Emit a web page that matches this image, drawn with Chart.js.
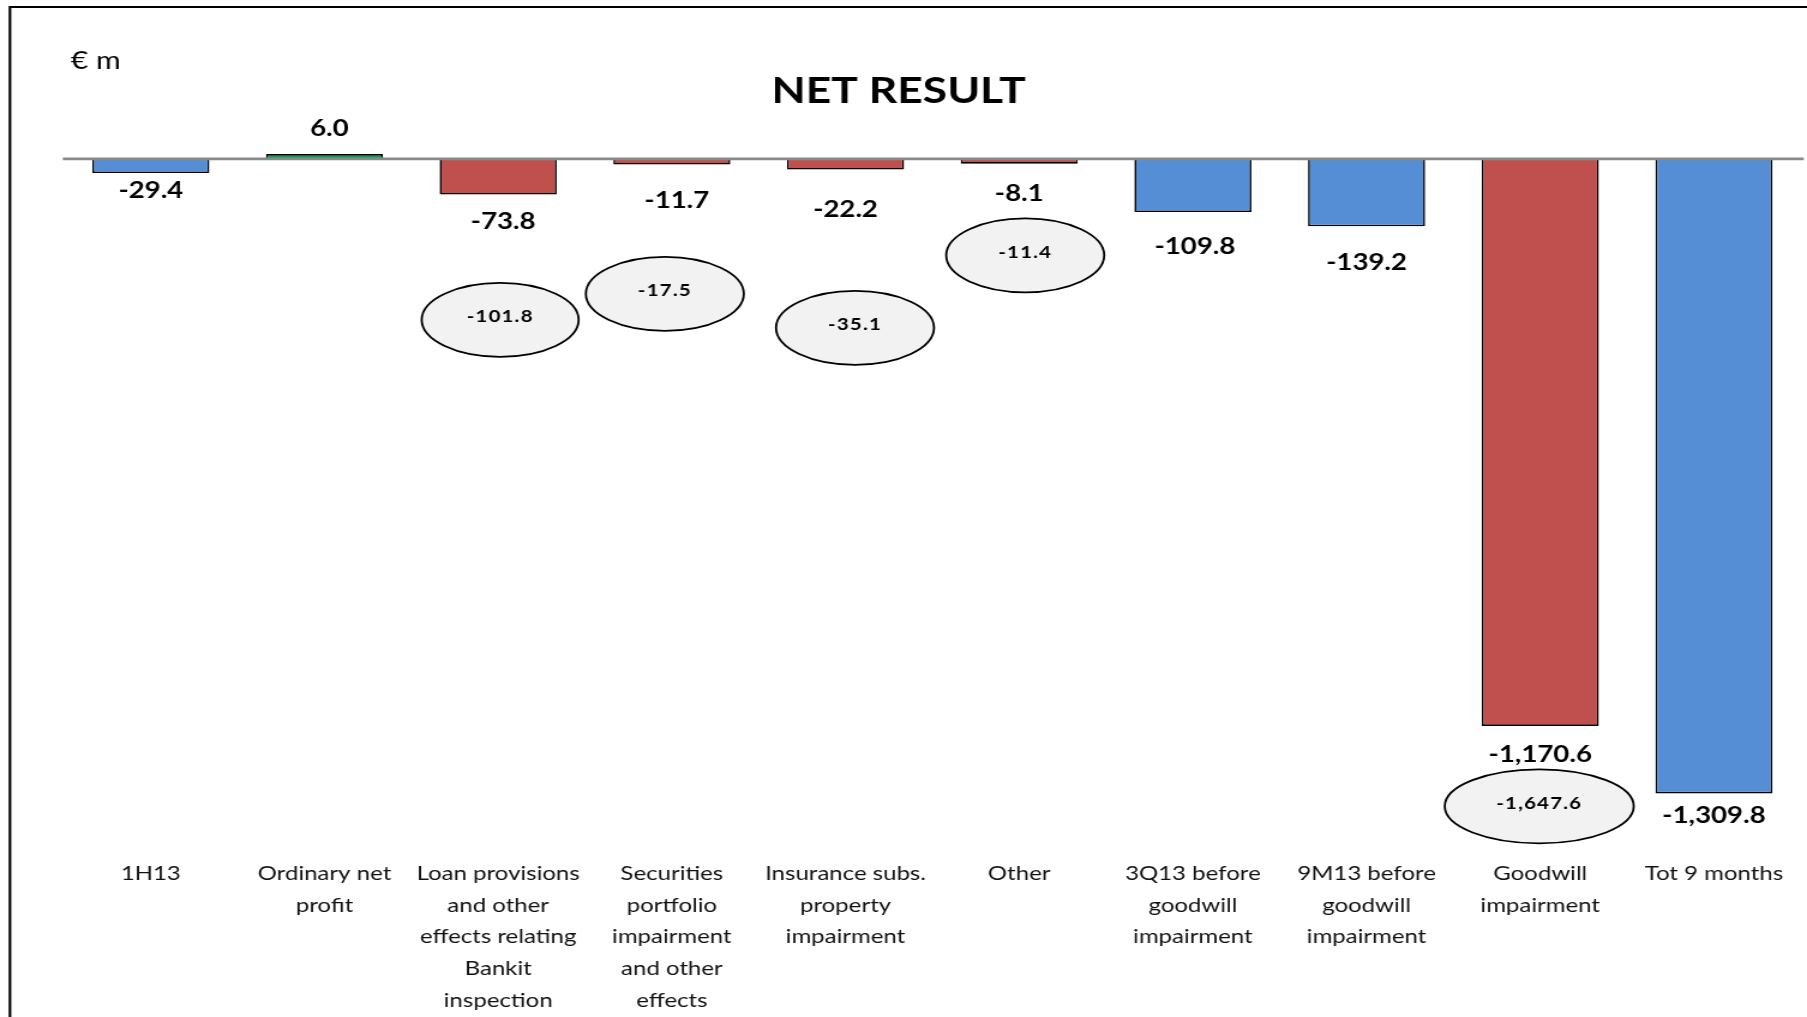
<!DOCTYPE html>
<html>
<head>
<meta charset="utf-8">
<script src="https://cdn.jsdelivr.net/npm/chart.js@4.4.1/dist/chart.umd.min.js"></script>
<style>
  html, body { margin: 0; padding: 0; background: #ffffff; overflow: hidden; }
  #wrap { position: absolute; left: 0; top: 0; width: 1506px; height: 1017px; transform-origin: 0 0; }
</style>
</head>
<body>
<div id="wrap"><canvas id="c"></canvas></div>
<script>
// ---- data ----
const categories = [
  ['1H13'],
  ['Ordinary net', 'profit'],
  ['Loan provisions', 'and other', 'effects relating', 'Bankit', 'inspection'],
  ['Securities', 'portfolio', 'impairment', 'and other', 'effects'],
  ['Insurance subs.', 'property', 'impairment'],
  ['Other'],
  ['3Q13 before', 'goodwill', 'impairment'],
  ['9M13 before', 'goodwill', 'impairment'],
  ['Goodwill', 'impairment'],
  ['Tot 9 months']
];
const values = [-29.4, 6.0, -73.8, -11.7, -22.2, -8.1, -109.8, -139.2, -1170.6, -1309.8];
const grossValues = [null, null, -101.8, -17.5, -35.1, -11.4, null, null, -1647.6, null];
const barKinds = ['total', 'up', 'down', 'down', 'down', 'down', 'total', 'total', 'down', 'total'];
const unitLabel = '€ m';
const chartTitle = 'NET RESULT';

// ---- presentation ----
const WIDTH = 1807, HEIGHT = 1017, CANVAS_W = 1506;
const STRETCH = WIDTH / CANVAS_W;
document.getElementById('wrap').style.transform = 'scaleX(' + STRETCH + ')';
const kindColors = { total: '#558ED5', up: '#00A650', down: '#C0504D' };
// label offsets (px in final picture) from the bar end
const labelDx = [0, 5, 5, 5, 0, 0, 2, 0, 0, 0];
const labelDy = [18, -27, 27, 36, 39.5, 30.5, 35, 36, 29, 22];
// ellipse placement relative to category centre / zero line (final picture px)
const ellipseDx = [0, 0, 2, -7, 9.5, 6, 0, 0, -1, 0];
const ellipseDy = [0, 0, 161, 135, 169, 96.5, 0, 0, 647.5, 0];
const ellipseW = [0, 0, 157, 158, 158, 158, 0, 0, 189, 0];
const ellipseH = 74;

const fmt = v => v.toLocaleString('en-US', { minimumFractionDigits: 1, maximumFractionDigits: 1 });

const annotations = {
  id: 'annotations',
  beforeDraw(chart) {
    const ctx = chart.ctx;
    ctx.save();
    // frame
    ctx.strokeStyle = '#000';
    ctx.lineWidth = 2.2;
    ctx.beginPath();
    ctx.moveTo(8.3, HEIGHT + 5);
    ctx.lineTo(8.3, 7);
    ctx.lineTo(CANVAS_W + 5, 7);
    ctx.stroke();
    // unit
    ctx.fillStyle = '#000';
    ctx.font = '25px Lato';
    ctx.textAlign = 'left';
    ctx.textBaseline = 'middle';
    ctx.fillText(unitLabel, 59, 61);
    // title
    ctx.font = 'bold 37px Lato';
    ctx.textAlign = 'center';
    ctx.fillText(chartTitle, 749, 91);
    ctx.restore();
  },
  afterDatasetsDraw(chart) {
    const { ctx, chartArea, scales: { x, y } } = chart;
    const y0 = y.getPixelForValue(0);
    ctx.save();
    // zero line
    ctx.strokeStyle = '#8a8a8a';
    ctx.lineWidth = 2.6;
    ctx.beginPath();
    ctx.moveTo(chartArea.left - 1, y0);
    ctx.lineTo(chartArea.right + 2.5, y0);
    ctx.stroke();
    // value labels
    ctx.fillStyle = '#000';
    ctx.font = 'bold 23px Lato';
    ctx.textAlign = 'center';
    ctx.textBaseline = 'middle';
    values.forEach((v, i) => {
      const px = x.getPixelForValue(i) + labelDx[i] / STRETCH;
      const py = y.getPixelForValue(v) + labelDy[i];
      ctx.fillText(fmt(v), px, py);
    });
    // ellipses with gross values
    grossValues.forEach((g, i) => {
      if (g === null) return;
      const cx = x.getPixelForValue(i) + ellipseDx[i] / STRETCH;
      const cy = y0 + ellipseDy[i];
      ctx.beginPath();
      ctx.ellipse(cx, cy, ellipseW[i] / 2 / STRETCH, ellipseH / 2, 0, 0, Math.PI * 2);
      ctx.fillStyle = '#F2F2F2';
      ctx.fill();
      ctx.lineWidth = 1.8;
      ctx.strokeStyle = '#000';
      ctx.stroke();
      ctx.fillStyle = '#000';
      ctx.font = 'bold 17px Lato';
      if ('letterSpacing' in ctx) ctx.letterSpacing = '1px';
      ctx.fillText(fmt(g), cx, cy - 3);
      if ('letterSpacing' in ctx) ctx.letterSpacing = '0px';
    });
    ctx.restore();
  }
};

new Chart(document.getElementById('c'), {
  type: 'bar',
  data: {
    labels: categories,
    datasets: [{
      data: values,
      backgroundColor: barKinds.map(k => kindColors[k]),
      borderColor: '#000',
      borderWidth: 1.6,
      borderSkipped: 'start',
      minBarLength: 4.8,
      categoryPercentage: 1,
      barPercentage: 0.674
    }]
  },
  options: {
    responsive: true,
    maintainAspectRatio: false,
    devicePixelRatio: 1,
    animation: false,
    layout: { padding: { left: 53.3, right: 5.2, top: 60, bottom: 0 } },
    plugins: { legend: { display: false }, tooltip: { enabled: false }, title: { display: false } },
    scales: {
      x: {
        grid: { display: false, drawTicks: false },
        border: { display: false },
        ticks: {
          autoSkip: false, maxRotation: 0, minRotation: 0, padding: 2.5,
          color: '#111',
          font: { family: 'Lato', size: 20, lineHeight: '31.7px' }
        },
        afterFit(scale) { scale.height = 162; }
      },
      y: {
        display: false,
        min: -1437,
        max: 204
      }
    }
  },
  plugins: [annotations]
});
</script>
</body>
</html>
